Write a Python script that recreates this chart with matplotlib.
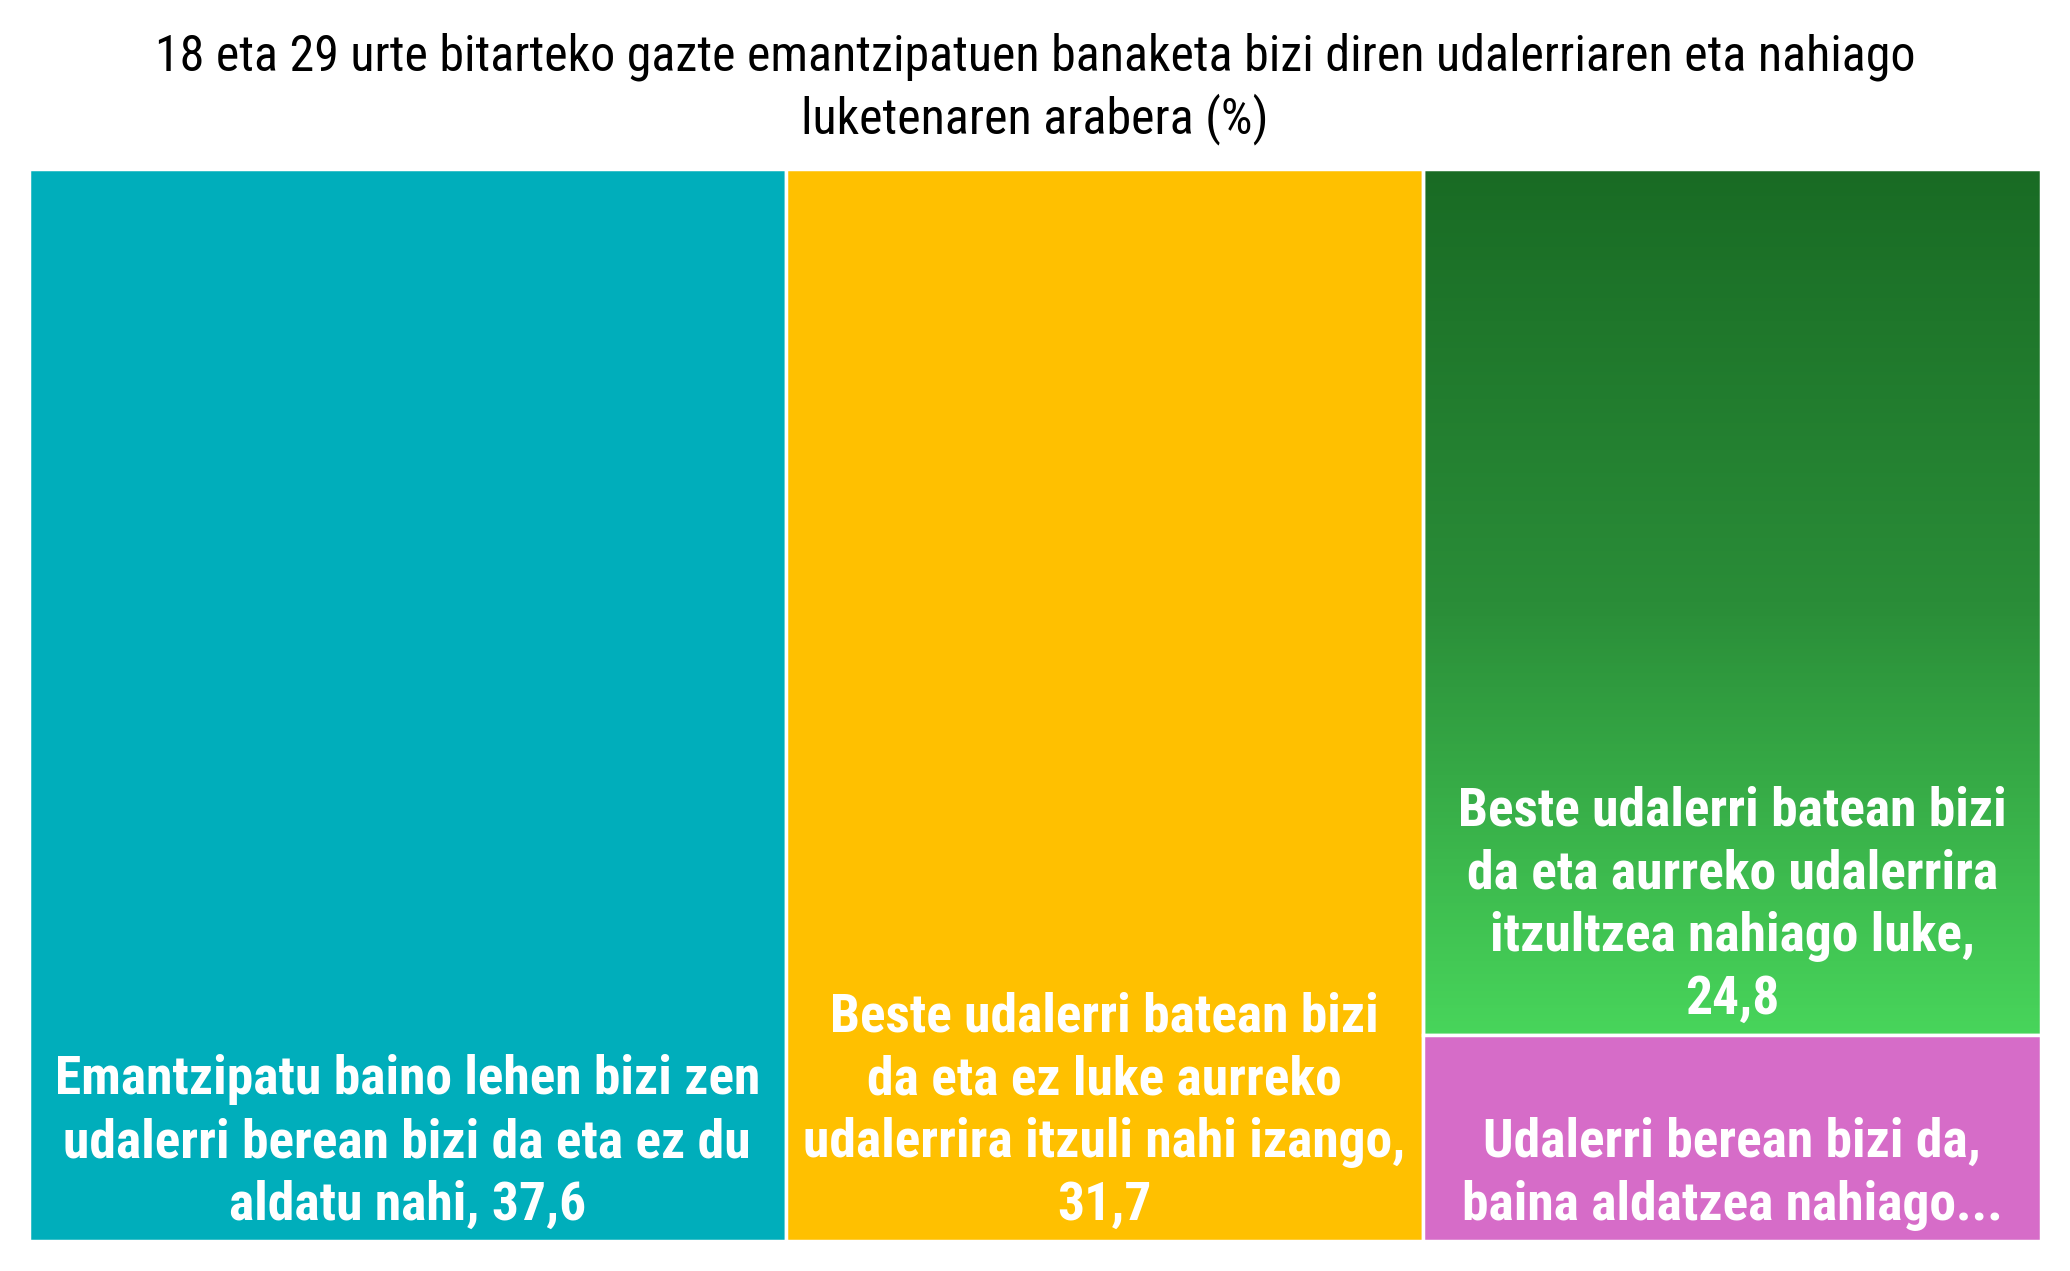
import numpy as np
import matplotlib.pyplot as plt
from matplotlib.patches import Rectangle
from matplotlib.colors import LinearSegmentedColormap

# datos
title = "18 eta 29 urte bitarteko gazte emantzipatuen banaketa bizi diren udalerriaren eta nahiago\nluketenaren arabera (%)"
labels = [
    "Emantzipatu baino lehen bizi zen\nudalerri berean bizi da eta ez du\naldatu nahi, 37,6",
    "Beste udalerri batean bizi\nda eta ez luke aurreko\nudalerrira itzuli nahi izango,\n31,7",
    "Beste udalerri batean bizi\nda eta aurreko udalerrira\nitzultzea nahiago luke,\n24,8",
    "Udalerri berean bizi da,\nbaina aldatzea nahiago...",
]
values = [37.6, 31.7, 24.8, 5.9]
groups = [[0], [1], [2, 3]]   # columnas del treemap
colors = ["#00AEBB", "#FFC000", None, "#D66CC8"]   # None -> degradado verde

fuente = ["Roboto Condensed", "DejaVu Sans"]

W, H = 2070, 1271
fig = plt.figure(figsize=(W / 100, H / 100), dpi=100)
ax = fig.add_axes([29 / W, 1 - 1241 / H, (2041 - 29) / W, (1241 - 169) / H])
total = sum(values)
ax.axis("off")

green = LinearSegmentedColormap.from_list("g", ["#196B24", "#2A8D38", "#48D55B"])

x0 = 0
for g in groups:
    gw = sum(values[i] for i in g)
    y0 = 0
    for i in g:
        h = values[i] / gw
        if colors[i] is None:
            grad = np.linspace(0, 1, 256).reshape(-1, 1)
            ax.imshow(grad, cmap=green, extent=(x0, x0 + gw, y0 + h, y0),
                      aspect="auto", zorder=1)
            ax.add_patch(Rectangle((x0, y0), gw, h, facecolor="none",
                                   edgecolor="white", lw=2.5, zorder=2))
        else:
            ax.add_patch(Rectangle((x0, y0), gw, h, facecolor=colors[i],
                                   edgecolor="white", lw=2.5, zorder=2))
        ax.annotate(labels[i], (x0 + gw / 2, y0 + h), xytext=(0, 15),
                    textcoords="offset points", ha="center", va="baseline",
                    color="white", fontsize=38.5, fontweight="bold",
                    fontstretch="condensed", family=fuente,
                    linespacing=1.3, zorder=3)
        y0 += h
    x0 += gw
ax.set_xlim(0, total)
ax.set_ylim(1, 0)

fig.text(0.5, 1 - 89 / H, title, ha="center", va="center", fontsize=36,
         fontstretch="condensed", family=fuente, linespacing=1.3)

fig.savefig("out.png", dpi=100)
